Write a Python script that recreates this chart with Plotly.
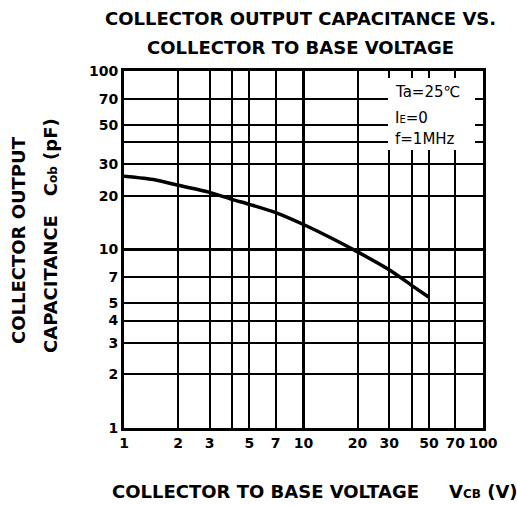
import plotly.graph_objects as go

# Data
vcb = [1, 1.5, 2, 3, 4, 5, 7, 10, 15, 20, 30, 40, 50]
cob = [25.7, 24.5, 22.9, 20.9, 19.1, 17.9, 16.1, 13.8, 11.3, 9.7, 7.7, 6.3, 5.4]

x_tickvals = [1, 2, 3, 4, 5, 7, 10, 20, 30, 40, 50, 70, 100]
x_ticktext = ["1", "2", "3", "", "5", "7", "10", "20", "30", "", "50", "70", "100"]
y_tickvals = [1, 2, 3, 4, 5, 7, 10, 20, 30, 40, 50, 70, 100]
y_ticktext = ["1", "2", "3", "4", "5", "7", "10", "20", "30", "", "50", "70", "100"]

FONT = "DejaVu Sans, Liberation Sans, sans-serif"

W, H = 517, 505
# plot area in page pixels
L, T, R, B = 124, 71, 483, 428

fig = go.Figure()
fig.add_trace(go.Scatter(
    x=vcb, y=cob, mode="lines",
    line=dict(color="black", width=3.5, shape="spline", smoothing=0.8),
    showlegend=False, hoverinfo="skip",
))

fig.update_layout(
    width=W, height=H,
    margin=dict(l=L, r=W - R, t=T, b=H - B),
    paper_bgcolor="white", plot_bgcolor="white",
    font=dict(family=FONT, color="black"),
)
axis_common = dict(
    type="log", range=[0, 2],
    showgrid=True, gridcolor="black", gridwidth=1.6,
    showline=True, linecolor="black", linewidth=3, mirror=True,
    ticks="", zeroline=False, tickangle=0,
    tickfont=dict(family=FONT, size=14, color="black", weight="bold"),
)
fig.update_xaxes(tickvals=x_tickvals, ticktext=x_ticktext, **axis_common)
fig.update_yaxes(tickvals=y_tickvals, ticktext=y_ticktext, **axis_common)

# thicker decade lines
fig.add_shape(type="line", xref="x", yref="paper", x0=10, x1=10, y0=0, y1=1,
              line=dict(color="black", width=3), layer="below")
fig.add_shape(type="line", xref="paper", yref="y", x0=0, x1=1, y0=10, y1=10,
              line=dict(color="black", width=3), layer="below")


def px_x(p):
    return (p - L) / (R - L)


def px_y(p):
    return (B - p) / (B - T)


# conditions box (covers gridlines)
fig.add_shape(type="rect", xref="paper", yref="paper",
              x0=px_x(388), x1=px_x(475), y0=px_y(150), y1=px_y(78),
              fillcolor="white", line=dict(width=0), layer="above")
for txt, py in [("Ta=25℃", 92), ("I<span style='font-size:10px'>E</span>=0", 118),
                ("f=1MHz", 139)]:
    fig.add_annotation(text=txt, xref="paper", yref="paper", x=px_x(393), y=px_y(py),
                       xanchor="left", yanchor="middle", showarrow=False,
                       font=dict(family=FONT, size=15, color="black"))

# Title
fig.add_annotation(text="<b>COLLECTOR OUTPUT CAPACITANCE VS.</b>", xref="paper", yref="paper",
                   x=px_x(300), y=px_y(18), xanchor="center", yanchor="middle",
                   showarrow=False, font=dict(family=FONT, size=18, color="black"))
fig.add_annotation(text="<b>COLLECTOR TO BASE VOLTAGE</b>", xref="paper", yref="paper",
                   x=px_x(300), y=px_y(47), xanchor="center", yanchor="middle",
                   showarrow=False, font=dict(family=FONT, size=18, color="black"))

# X axis title
fig.add_annotation(text="<b>COLLECTOR TO BASE VOLTAGE</b>", xref="paper", yref="paper",
                   x=px_x(110), y=px_y(491), xanchor="left", yanchor="middle",
                   showarrow=False, font=dict(family=FONT, size=18, color="black"))
fig.add_annotation(text="<b>V<span style='font-size:12px'>CB</span> (V)</b>",
                   xref="paper", yref="paper",
                   x=px_x(447), y=px_y(491), xanchor="left", yanchor="middle",
                   showarrow=False, font=dict(family=FONT, size=18, color="black"))

# Y axis title
fig.add_annotation(text="<b>COLLECTOR OUTPUT</b>", xref="paper", yref="paper",
                   x=px_x(18), y=px_y(240), xanchor="center", yanchor="middle",
                   textangle=-90, showarrow=False,
                   font=dict(family=FONT, size=18, color="black"))
fig.add_annotation(text="<b>CAPACITANCE   C<span style='font-size:12px'>ob</span> (pF)</b>",
                   xref="paper", yref="paper",
                   x=px_x(50), y=px_y(236), xanchor="center", yanchor="middle",
                   textangle=-90, showarrow=False,
                   font=dict(family=FONT, size=18, color="black"))

fig.write_html(
    "out.html",
    config={"displayModeBar": False},
    post_script="document.body.style.margin='0';document.body.style.overflow='hidden';",
)
